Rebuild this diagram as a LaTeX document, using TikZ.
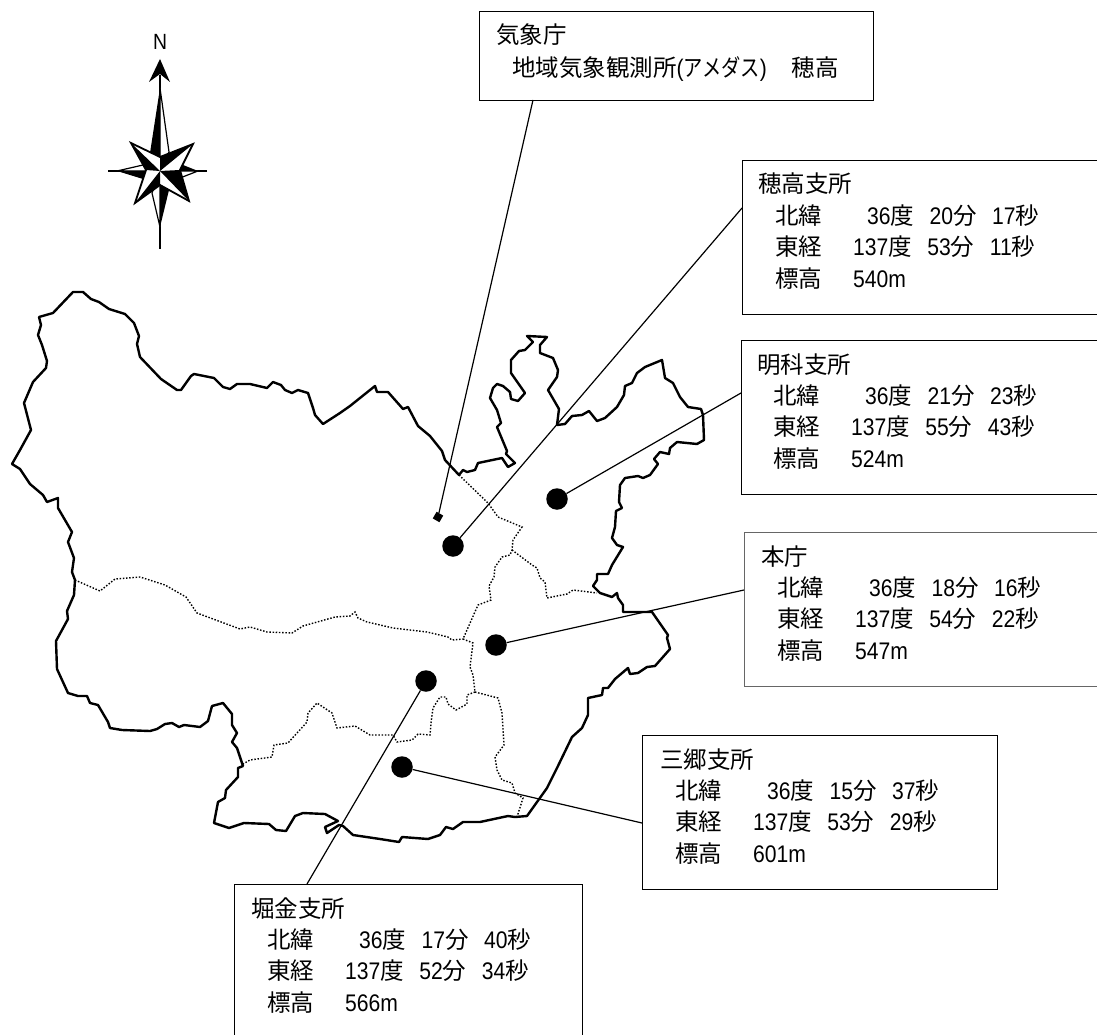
\documentclass[tikz,border=0pt]{standalone}
\usepackage{fontspec}
\usetikzlibrary{shapes.geometric}
\setmainfont[FakeStretch=0.88]{Liberation Sans}
\newfontfamily\cjk{Noto Sans CJK JP}
\newfontfamily\cjkn[FakeStretch=0.82]{Noto Sans CJK JP}
\newcommand{\JJ}[1]{{\cjk\fontsize{23.5pt}{23.5pt}\selectfont #1}}
\newcommand{\KK}[1]{{\cjkn\fontsize{23.5pt}{23.5pt}\selectfont #1}}
\tikzset{
  boundary/.style={line width=2.4pt,line join=round},
  ward/.style={line width=1.4pt,dash pattern=on 1.5pt off 1.7pt},
  leader/.style={line width=1.2pt},
  spot/.style={circle,fill=black,minimum size=21.5pt,inner sep=0pt},
  infobox/.style={draw=black,line width=1.3pt,anchor=north west,inner sep=0pt,rectangle},
  txt/.style={anchor=base west,inner sep=0pt,font=\fontsize{24pt}{24pt}\selectfont},
}
\newcommand{\rowsof}[7]{%
  \node[txt] (#1t) at ([shift={(#2,33)}]#1.north west) {\JJ{#4}};
  \node[txt] (#1a) at ([shift={(#3,64)}]#1.north west) {\JJ{北緯}\hspace*{45pt}#5};
  \node[txt] (#1b) at ([shift={(#3,95)}]#1.north west) {\JJ{東経}\hspace*{31pt}#6};
  \node[txt] (#1c) at ([shift={(#3,127)}]#1.north west) {\JJ{標高}\hspace*{31pt}#7};
}
\newcommand{\DMS}[3]{#1\JJ{度}\hspace*{15.5pt}#2\JJ{分}\hspace*{15.5pt}#3\JJ{秒}}
\begin{document}
\begin{tikzpicture}[x=1pt,y=-1pt]
\useasboundingbox (0,0) rectangle (1097,1035);
% compass
\draw[line width=2.8pt] (160,75) -- (160,249);
\draw[line width=2.8pt] (108,171) -- (125,171);
\draw[line width=2.8pt] (207,171) -- (195,171);
\fill (160,59) -- (170,82) -- (160,74) -- (149,82) -- cycle;
\node[anchor=base,inner sep=0pt,font=\fontsize{22pt}{22pt}\selectfont] (north) at (160,50) {N};
\draw[line width=1.2pt,fill=white] (160,88) -- (169,152) -- (160,171) -- cycle;
\fill (160,88) -- (150,153) -- (160,171) -- cycle;
\draw[line width=1.2pt,fill=white] (160,227) -- (152,193) -- (160,171) -- cycle;
\fill (160,227) -- (169,190) -- (160,171) -- cycle;
\draw[line width=1.2pt,fill=white] (198,171) -- (180,178) -- (160,171) -- cycle;
\fill (198,171) -- (178,163) -- (160,171) -- cycle;
\draw[line width=1.2pt,fill=white] (117,171) -- (143,165) -- (160,171) -- cycle;
\fill (117,171) -- (143,179) -- (160,171) -- cycle;
\draw[line width=1.8pt,fill=white,line join=miter]
  (131,143) -- (160,157) -- (193,144) -- (180,170) -- (189,201) -- (160,185) -- (135,203) -- (146,170) -- cycle;
\fill (131,143) -- (146,170) -- (160,171) -- cycle;
\fill (193,144) -- (160,157) -- (160,171) -- cycle;
\fill (189,201) -- (180,170) -- (160,171) -- cycle;
\fill (135,203) -- (160,185) -- (160,171) -- cycle;
% boundary
\draw[boundary] (73,292) -- (83,292) -- (91,299) -- (99,302) -- (109,309) -- (125,314) -- (134,323) -- (139,336) -- (137,344) -- (140,357) -- (161,379) -- (177,390) -- (181,390) -- (191,376) -- (194,374) -- (214,378) -- (223,387) -- (230,389) -- (237,384) -- (250,384) -- (267,388) -- (273,382) -- (281,385) -- (285,390) -- (292,393) -- (298,390) -- (308,393) -- (313,408) -- (315,415) -- (323,424) -- (340,413) -- (350,406) -- (375,386) -- (377,392) -- (388,392) -- (403,409) -- (408,407) -- (418,426) -- (430,436) -- (442,451) -- (445,460) -- (459,475) -- (463,470) -- (467,472) -- (475,470) -- (478,463) -- (502,458) -- (508,467) -- (515,463) -- (506,454) -- (507,451) -- (497,427) -- (501,423) -- (497,410) -- (490,398) -- (493,388) -- (497,384) -- (503,386) -- (510,392) -- (511,399) -- (518,401) -- (525,393) -- (511,373) -- (511,360) -- (519,351) -- (525,350) -- (533,342) -- (527,336) -- (547,337) -- (540,345) -- (540,353) -- (553,358) -- (558,370) -- (557,377) -- (548,390) -- (559,409) -- (557,425) -- (565,424) -- (572,416) -- (582,415) -- (589,411) -- (597,421) -- (605,418) -- (617,407) -- (624,395) -- (625,386) -- (632,383) -- (637,373) -- (645,367) -- (662,360) -- (665,378) -- (673,383) -- (680,397) -- (688,407) -- (701,409) -- (703,415) -- (704,440) -- (697,444) -- (677,442) -- (670,448) -- (669,454) -- (660,452) -- (654,459) -- (658,464) -- (650,475) -- (643,478) -- (638,476) -- (625,478) -- (620,485) -- (619,502) -- (622,508) -- (616,511) -- (615,527) -- (612,538) -- (617,545) -- (623,547) -- (612,565) -- (608,574) -- (597,574) -- (597,580) -- (593,586) -- (600,593) -- (612,597) -- (617,593) -- (618,598) -- (623,605) -- (623,612) -- (652,612) -- (668,635) -- (667,638) -- (670,649) -- (655,666) -- (647,667) -- (638,673) -- (630,674) -- (628,668) -- (615,679) -- (608,688) -- (603,688) -- (602,695) -- (588,698) -- (588,715) -- (582,728) -- (572,737) -- (557,768) -- (547,788) -- (527,816) -- (515,817) -- (508,816) -- (480,822) -- (463,822) -- (453,829) -- (446,827) -- (440,835) -- (428,839) -- (402,837) -- (399,842) -- (380,839) -- (353,835) -- (343,826) -- (339,825) -- (327,833) -- (325,827) -- (338,821) -- (325,814) -- (303,813) -- (295,816) -- (286,831) -- (276,830) -- (269,824) -- (244,823) -- (229,828) -- (214,823) -- (218,802) -- (225,798) -- (226,790) -- (238,777) -- (238,768) -- (243,766) -- (237,748) -- (232,742) -- (237,733) -- (232,725) -- (232,714) -- (223,703) -- (212,706) -- (208,721) -- (200,727) -- (184,725) -- (179,727) -- (172,723) -- (165,724) -- (157,729) -- (150,731) -- (122,730) -- (110,728) -- (108,722) -- (98,705) -- (90,703) -- (87,696) -- (78,696) -- (68,693) -- (57,669) -- (56,641) -- (68,619) -- (67,611) -- (74,595) -- (75,580) -- (72,572) -- (74,558) -- (68,542) -- (72,532) -- (58,508) -- (58,498) -- (47,502) -- (43,495) -- (30,484) -- (20,469) -- (12,464) -- (20,450) -- (31,430) -- (24,403) -- (33,382) -- (46,368) -- (47,361) -- (42,345) -- (38,335) -- (41,325) -- (39,317) -- (53,313) -- cycle;
% ward lines
\draw[ward] (459,475) -- (488,503) -- (498,517) -- (522,527) -- (513,540) -- (512,550) -- (510,555) -- (502,557) -- (495,567) -- (494,577) -- (489,586) -- (491,600) -- (478,605) -- (463,639) -- (473,643) -- (470,667) -- (473,675) -- (475,692);
\draw[ward] (512,550) -- (532,565) -- (537,568) -- (540,578) -- (545,582) -- (547,598) -- (567,594) -- (573,590) -- (597,593);
\draw[ward] (75,580) -- (100,591) -- (115,579) -- (140,577) -- (165,585) -- (186,597) -- (197,613) -- (240,629) -- (250,627) -- (267,632) -- (292,633) -- (303,626) -- (335,617) -- (350,616) -- (355,612) -- (358,618) -- (367,622) -- (393,628) -- (427,632) -- (448,637) -- (452,640) -- (463,639);
\draw[ward] (475,692) -- (467,695) -- (467,704) -- (456,710) -- (448,704) -- (446,697) -- (440,697) -- (433,708) -- (431,723) -- (430,735) -- (418,734) -- (412,740) -- (397,742) -- (393,735) -- (370,735) -- (355,726) -- (337,728) -- (332,713) -- (317,703) -- (308,713) -- (307,722) -- (288,743) -- (274,745) -- (272,757) -- (250,760) -- (243,764);
\draw[ward] (475,692) -- (498,698) -- (502,713) -- (504,745) -- (495,757) -- (497,770) -- (502,780) -- (512,783) -- (515,793) -- (523,798) -- (517,817);
% spots
\node[spot] (dm) at (557,499) {};
\node[spot] (dh) at (453,546) {};
\node[spot] (dc) at (496,645) {};
\node[spot] (dk) at (426,681) {};
\node[spot] (ds) at (402,767) {};
\node[diamond,fill=black,minimum size=11pt,inner sep=0pt,rotate=15] (dj) at (438,517) {};
% boxes
\node[infobox,minimum width=394pt,minimum height=89pt] (b1) at (479,11) {};
\node[infobox,minimum width=380pt,minimum height=154pt] (b2) at (742,160) {};
\node[infobox,minimum width=380pt,minimum height=154pt] (b3) at (741,340) {};
\node[infobox,draw=black!60,minimum width=380pt,minimum height=154pt] (b4) at (744,532) {};
\node[infobox,minimum width=354.5pt,minimum height=154pt] (b5) at (642,735) {};
\node[infobox,minimum width=347.5pt,minimum height=190pt] (b6) at (234,884) {};
% leaders
\coordinate (l1) at (533,100);
\coordinate (l2) at (742,208);
\coordinate (l3) at (741,393);
\coordinate (l4) at (744,590);
\coordinate (l5) at (642,823);
\coordinate (l6) at (307,884);
\draw[leader] (dj) -- (l1);
\draw[leader] (dh) -- (l2);
\draw[leader] (dm) -- (l3);
\draw[leader] (dc) -- (l4);
\draw[leader] (ds) -- (l5);
\draw[leader] (dk) -- (l6);
% texts
\node[txt] (b1t) at (496,44) {\JJ{気象庁}};
\node[txt] (b1a) at (512,77) {\JJ{地域気象観測所}(\KK{アメダス})\hspace*{25pt}\JJ{穂高}};
\rowsof{b2}{16}{33}{穂高支所}{\DMS{36}{20}{17}}{\DMS{137}{53}{11}}{540m}
\rowsof{b3}{16}{32}{明科支所}{\DMS{36}{21}{23}}{\DMS{137}{55}{43}}{524m}
\rowsof{b4}{17}{33}{本庁}{\DMS{36}{18}{16}}{\DMS{137}{54}{22}}{547m}
\rowsof{b5}{18}{33}{三郷支所}{\DMS{36}{15}{37}}{\DMS{137}{53}{29}}{601m}
\rowsof{b6}{17}{33}{堀金支所}{\DMS{36}{17}{40}}{\DMS{137}{52}{34}}{566m}
\end{tikzpicture}
\end{document}
